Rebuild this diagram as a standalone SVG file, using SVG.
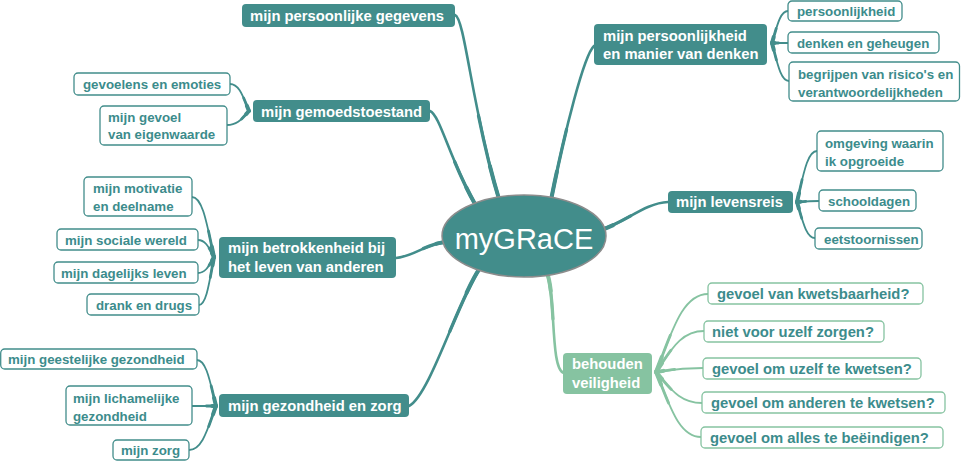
<svg xmlns="http://www.w3.org/2000/svg" width="961" height="461" viewBox="0 0 961 461">
<style>
.mn rect{fill:#428d8b}
.mn text{fill:#fff;font-family:"Liberation Sans",Arial,sans-serif;font-weight:bold;font-size:14.8px}
.gm rect{fill:#86c3a1}
.gm text{fill:#fff;font-family:"Liberation Sans",Arial,sans-serif;font-weight:bold;font-size:14.8px}
.ch rect{fill:#fff;stroke:#428d8b;stroke-width:1.3}
.ch text{fill:#3c8c8c;font-family:"Liberation Sans",Arial,sans-serif;font-weight:bold;font-size:13.3px}
.gc rect{fill:#fff;stroke:#86c3a1;stroke-width:1.3}
.gc text{fill:#3c8c8c;font-family:"Liberation Sans",Arial,sans-serif;font-weight:bold;font-size:14.8px}
.teal{stroke:#428d8b}
.green{stroke:#86c3a1}
.k0{stroke-width:1.8}
.k1{stroke-width:2.8;stroke-dasharray:40 200}
.k2{stroke-width:4;stroke-dasharray:16 200}
.m0{stroke-width:2.6}
.m1{stroke-width:3.3;stroke-dasharray:45 200}
.m2{stroke-width:4;stroke-dasharray:18 200}
</style>
<defs>
<path id="g1" pathLength="100" d="M499 199 C472 110 465 18 455 15"/>
<path id="g2" pathLength="100" d="M475 204 C450 160 440 115 430 111"/>
<path id="g3" pathLength="100" d="M551 200 C565 130 584 55 594 46"/>
<path id="g4" pathLength="100" d="M601 230 C626 222 645 203 668 202"/>
<path id="g5" pathLength="100" d="M446 242 C425 244 415 256 396 258"/>
<path id="g6" pathLength="100" d="M480 268 C458 300 430 395 409 406"/>
<path id="g7" pathLength="100" d="M547 273 C556 295 550 370 564 373"/>
<path id="a1" pathLength="100" d="M249 111 C243.3 97.5 239.5 84 230 84"/>
<path id="a2" pathLength="100" d="M249 111 C242.4 118 238 125 227 125"/>
<path id="b1" pathLength="100" d="M772 43 C776.8 27 780 11 788 11"/>
<path id="b2" pathLength="100" d="M772 43 C776.8 43 780 43 788 43"/>
<path id="b3" pathLength="100" d="M772 43 C777.1 62 780.5 81 789 81"/>
<path id="c1" pathLength="100" d="M214 257 C207.4 227 203 197 192 197"/>
<path id="c2" pathLength="100" d="M214 257 C209.2 248.5 206 240 198 240"/>
<path id="c3" pathLength="100" d="M214 257 C209.2 265 206 273 198 273"/>
<path id="c4" pathLength="100" d="M214 257 C209.5 281 206.5 305 199 305"/>
<path id="d1" pathLength="100" d="M797 202 C803 176.5 807 151 817 151"/>
<path id="d2" pathLength="100" d="M797 202 C803.6 201.5 808 201 819 201"/>
<path id="d3" pathLength="100" d="M797 202 C802.4 220 806 238 815 238"/>
<path id="e1" pathLength="100" d="M216 406 C210.3 383 206.5 360 197 360"/>
<path id="e2" pathLength="100" d="M216 406 C208.8 406 204 406 192 406"/>
<path id="e3" pathLength="100" d="M216 406 C207.9 428 202.5 450 189 450"/>
<path id="f1" pathLength="100" d="M656 372 C671.6 333 682 294 708 294"/>
<path id="f2" pathLength="100" d="M656 372 C670.4 351.5 680 331 704 331"/>
<path id="f3" pathLength="100" d="M656 372 C670.1 370 679.5 368 703 368"/>
<path id="f4" pathLength="100" d="M656 372 C669.8 387.5 679 403 702 403"/>
<path id="f5" pathLength="100" d="M656 372 C669.5 404.5 678.5 437 701 437"/>
</defs>
<rect width="961" height="461" fill="#fff"/>
<g id="connectors" fill="none" stroke-linecap="round">
<g class="teal">
<use href="#g1" class="m0"/><use href="#g1" class="m1"/><use href="#g1" class="m2"/>
<use href="#g2" class="m0"/><use href="#g2" class="m1"/><use href="#g2" class="m2"/>
<use href="#g3" class="m0"/><use href="#g3" class="m1"/><use href="#g3" class="m2"/>
<use href="#g4" class="m0"/><use href="#g4" class="m1"/><use href="#g4" class="m2"/>
<use href="#g5" class="m0"/><use href="#g5" class="m1"/><use href="#g5" class="m2"/>
<use href="#g6" class="m0"/><use href="#g6" class="m1"/><use href="#g6" class="m2"/>
<use href="#a1" class="k0"/><use href="#a1" class="k1"/><use href="#a1" class="k2"/>
<use href="#a2" class="k0"/><use href="#a2" class="k1"/><use href="#a2" class="k2"/>
<use href="#b1" class="k0"/><use href="#b1" class="k1"/><use href="#b1" class="k2"/>
<use href="#b2" class="k0"/><use href="#b2" class="k1"/><use href="#b2" class="k2"/>
<use href="#b3" class="k0"/><use href="#b3" class="k1"/><use href="#b3" class="k2"/>
<use href="#c1" class="k0"/><use href="#c1" class="k1"/><use href="#c1" class="k2"/>
<use href="#c2" class="k0"/><use href="#c2" class="k1"/><use href="#c2" class="k2"/>
<use href="#c3" class="k0"/><use href="#c3" class="k1"/><use href="#c3" class="k2"/>
<use href="#c4" class="k0"/><use href="#c4" class="k1"/><use href="#c4" class="k2"/>
<use href="#d1" class="k0"/><use href="#d1" class="k1"/><use href="#d1" class="k2"/>
<use href="#d2" class="k0"/><use href="#d2" class="k1"/><use href="#d2" class="k2"/>
<use href="#d3" class="k0"/><use href="#d3" class="k1"/><use href="#d3" class="k2"/>
<use href="#e1" class="k0"/><use href="#e1" class="k1"/><use href="#e1" class="k2"/>
<use href="#e2" class="k0"/><use href="#e2" class="k1"/><use href="#e2" class="k2"/>
<use href="#e3" class="k0"/><use href="#e3" class="k1"/><use href="#e3" class="k2"/>
</g>
<g class="green">
<use href="#g7" class="m0"/><use href="#g7" class="m1"/><use href="#g7" class="m2"/>
<use href="#f1" class="k0"/><use href="#f1" class="k1"/><use href="#f1" class="k2"/>
<use href="#f2" class="k0"/><use href="#f2" class="k1"/><use href="#f2" class="k2"/>
<use href="#f3" class="k0"/><use href="#f3" class="k1"/><use href="#f3" class="k2"/>
<use href="#f4" class="k0"/><use href="#f4" class="k1"/><use href="#f4" class="k2"/>
<use href="#f5" class="k0"/><use href="#f5" class="k1"/><use href="#f5" class="k2"/>
</g>
</g>

<g id="center">
<ellipse cx="524" cy="236" rx="82" ry="41" fill="#428d8b" stroke="#8c8c8c" stroke-width="1.5"/>
<text x="524" y="249" text-anchor="middle" fill="#fff" font-family="'Liberation Sans',Arial,sans-serif" font-size="29">myGRaCE</text>
</g>

<g id="n-gegevens" class="mn"><rect x="242" y="4" width="213" height="23" rx="4"/><text x="250" y="21">mijn persoonlijke gegevens</text></g>
<g id="n-gemoed" class="mn"><rect x="253" y="100" width="177" height="22" rx="4"/><text x="261" y="117">mijn gemoedstoestand</text></g>
<g id="n-persoonlijkheid" class="mn"><rect x="594" y="24" width="173" height="41" rx="4"/><text x="603" y="41">mijn persoonlijkheid</text><text x="603" y="59">en manier van denken</text></g>
<g id="n-levensreis" class="mn"><rect x="668" y="191" width="125" height="22" rx="4"/><text x="676" y="207">mijn levensreis</text></g>
<g id="n-betrokkenheid" class="mn"><rect x="219" y="237" width="177" height="41" rx="4"/><text x="228" y="253">mijn betrokkenheid bij</text><text x="228" y="272">het leven van anderen</text></g>
<g id="n-gezondheid" class="mn"><rect x="219" y="394" width="190" height="23" rx="4"/><text x="228" y="411">mijn gezondheid en zorg</text></g>
<g id="n-behouden" class="gm"><rect x="563" y="353" width="89" height="41" rx="4"/><text x="572" y="369">behouden</text><text x="572" y="388">veiligheid</text></g>

<g id="c-gevoelens" class="ch"><rect x="74" y="73" width="156" height="22" rx="4"/><text x="83" y="89">gevoelens en emoties</text></g>
<g id="c-eigenwaarde" class="ch"><rect x="100" y="106" width="127" height="39" rx="4"/><text x="108" y="122">mijn gevoel</text><text x="108" y="139">van eigenwaarde</text></g>
<g id="c-persoonlijkheid" class="ch"><rect x="788" y="1" width="114" height="20" rx="4"/><text x="797" y="16">persoonlijkheid</text></g>
<g id="c-denken" class="ch"><rect x="788" y="32" width="151" height="21" rx="4"/><text x="797" y="48">denken en geheugen</text></g>
<g id="c-risicos" class="ch"><rect x="789" y="62" width="170.5" height="39" rx="4"/><text x="798" y="79">begrijpen van risico's en</text><text x="798" y="97">verantwoordelijkheden</text></g>
<g id="c-motivatie" class="ch"><rect x="84" y="177" width="108" height="39" rx="4"/><text x="93" y="193">mijn motivatie</text><text x="93" y="211">en deelname</text></g>
<g id="c-sociale" class="ch"><rect x="57" y="229" width="141" height="21" rx="4"/><text x="65" y="245">mijn sociale wereld</text></g>
<g id="c-dagelijks" class="ch"><rect x="54" y="262" width="144" height="21" rx="4"/><text x="61" y="278">mijn dagelijks leven</text></g>
<g id="c-drank" class="ch"><rect x="87" y="294" width="112" height="21" rx="4"/><text x="96" y="310">drank en drugs</text></g>
<g id="c-omgeving" class="ch"><rect x="817" y="131" width="126" height="40" rx="4"/><text x="825" y="148">omgeving waarin</text><text x="825" y="166">ik opgroeide</text></g>
<g id="c-school" class="ch"><rect x="819" y="190" width="97" height="21" rx="4"/><text x="828" y="206">schooldagen</text></g>
<g id="c-eet" class="ch"><rect x="815" y="228" width="107" height="21" rx="4"/><text x="824" y="244">eetstoornissen</text></g>
<g id="c-geestelijk" class="ch"><rect x="0.7" y="349" width="196.3" height="20" rx="4"/><text x="8" y="364">mijn geestelijke gezondheid</text></g>
<g id="c-lichamelijk" class="ch"><rect x="66" y="386" width="126" height="39" rx="4"/><text x="73" y="403">mijn lichamelijke</text><text x="73" y="421">gezondheid</text></g>
<g id="c-zorg" class="ch"><rect x="113" y="440" width="76" height="20" rx="4"/><text x="121" y="455">mijn zorg</text></g>

<g id="c-kwetsbaar" class="gc"><rect x="708" y="283" width="215" height="21" rx="4"/><text x="717" y="299">gevoel van kwetsbaarheid?</text></g>
<g id="c-nietvoor" class="gc"><rect x="704" y="321" width="180" height="21" rx="4"/><text x="712" y="337">niet voor uzelf zorgen?</text></g>
<g id="c-uzelf" class="gc"><rect x="703" y="358" width="218" height="21" rx="4"/><text x="712" y="374">gevoel om uzelf te kwetsen?</text></g>
<g id="c-anderen" class="gc"><rect x="702" y="392" width="243" height="21" rx="4"/><text x="711" y="408">gevoel om anderen te kwetsen?</text></g>
<g id="c-alles" class="gc"><rect x="701" y="427" width="242" height="21" rx="4"/><text x="710" y="443">gevoel om alles te beëindigen?</text></g>
</svg>
